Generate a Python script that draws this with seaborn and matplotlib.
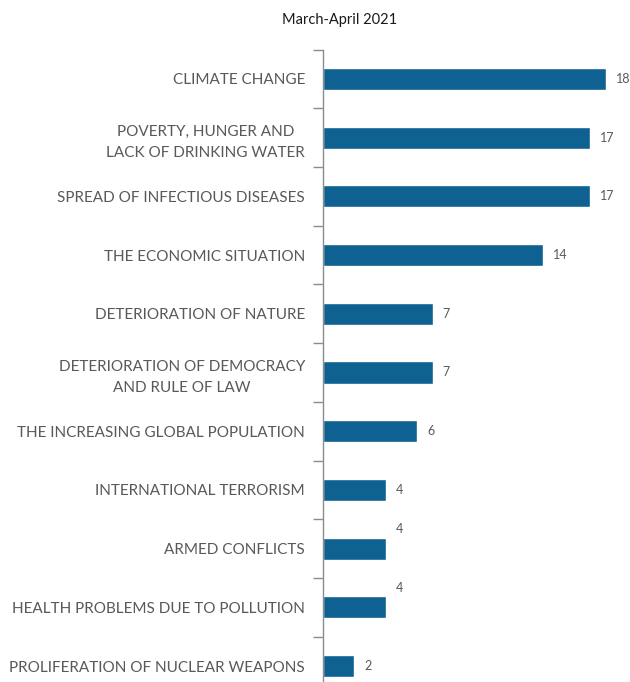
import matplotlib
matplotlib.use("Agg")
import matplotlib.pyplot as plt
import seaborn as sns
import pandas as pd
import numpy as np

categories = [
    "CLIMATE CHANGE",
    "POVERTY, HUNGER AND\nLACK OF DRINKING WATER",
    "SPREAD OF INFECTIOUS DISEASES",
    "THE ECONOMIC SITUATION",
    "DETERIORATION OF NATURE",
    "DETERIORATION OF DEMOCRACY\nAND RULE OF LAW",
    "THE INCREASING GLOBAL POPULATION",
    "INTERNATIONAL TERRORISM",
    "ARMED CONFLICTS",
    "HEALTH PROBLEMS DUE TO POLLUTION",
    "PROLIFERATION OF NUCLEAR WEAPONS",
]
values = [18, 17, 17, 14, 7, 7, 6, 4, 4, 4, 2]
title = "March-April 2021"

sns.set_theme(style="white")
plt.rcParams["font.family"] = ["Lato", "DejaVu Sans"]

df = pd.DataFrame({"category": categories, "value": values})

W, H = 630, 682
fig = plt.figure(figsize=(W / 100, H / 100), dpi=100)
left_px, right_px = 323, 606
top_px, bot_px = 49.65, 695.35
ax = fig.add_axes([left_px / W, (H - bot_px) / H, (right_px - left_px) / W, (bot_px - top_px) / H])

bar_color = "#0F6192"
sns.barplot(data=df, x="value", y="category", orient="h", color=bar_color,
            width=0.375, saturation=1, ax=ax)

ax.set_xlim(0, 18)
ax.set_ylim(len(categories) - 0.5, -0.5)
ax.set_xlabel("")
ax.set_ylabel("")
ax.set_xticks([])
for s in ["top", "right", "bottom"]:
    ax.spines[s].set_visible(False)
ax.spines["left"].set_color("#8c8c8c")
ax.spines["left"].set_linewidth(1.0)

text_color = "#595959"
ax.tick_params(axis="y", which="major", left=True, length=0, pad=13, labelsize=11, labelcolor=text_color)
ax.set_yticks(np.arange(-0.5, len(categories), 1.0), minor=True)
ax.tick_params(axis="y", which="minor", left=True, length=7, width=1.0, color="#8c8c8c", direction="out")
for lbl in ax.get_yticklabels():
    lbl.set_multialignment("center")
    lbl.set_linespacing(1.6)

for i, v in enumerate(values):
    dy = 0
    if i in (8, 9):
        dy = 14
    ax.annotate(str(v), xy=(v, i), xytext=(7, dy), textcoords="offset points",
                ha="left", va="center", fontsize=9, color=text_color,
                annotation_clip=False)

fig.text(340 / W, 1 - 20 / H, title, ha="center", va="center", fontsize=10.5, color="#1a1a1a")

fig.savefig("out.png", dpi=100)
